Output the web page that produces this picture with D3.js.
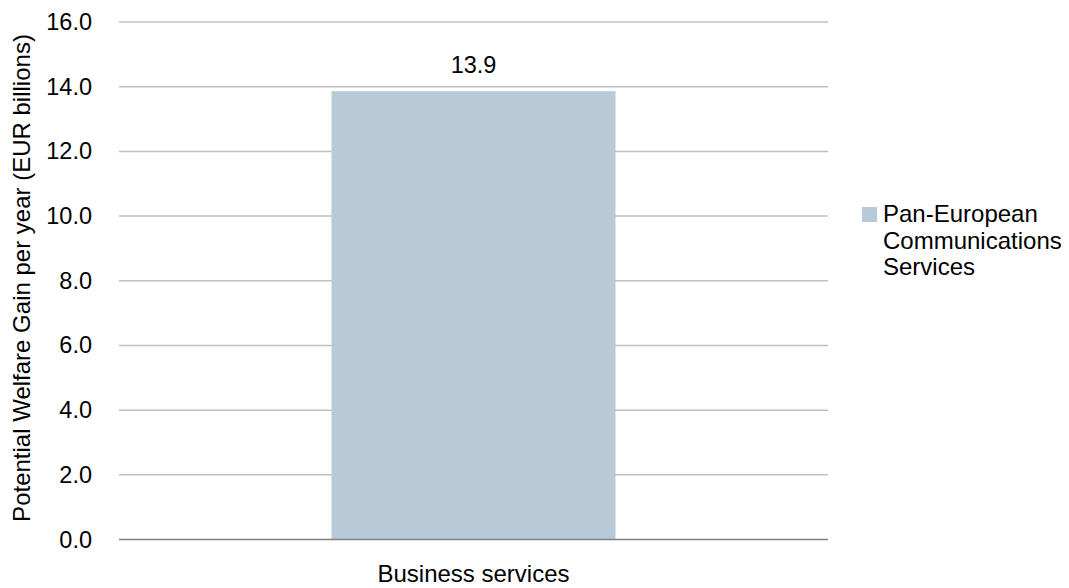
<!DOCTYPE html>
<html><head><meta charset="utf-8">
<script src="https://cdn.jsdelivr.net/npm/d3@7"></script>
<style>body{margin:0;background:#fff}svg{display:block}text{font-family:"Liberation Sans",Arial,sans-serif;fill:#000}</style>
</head><body><svg id="c" width="1069" height="588"></svg>
<script>
const categories = ["Business services"];
const seriesName = "Pan-European Communications Services";
const values = [13.86];
const valueLabels = ["13.9"];
const yTicks = [0, 2, 4, 6, 8, 10, 12, 14, 16];
const yTitle = "Potential Welfare Gain per year (EUR billions)";
const legendLines = ["Pan-European", "Communications", "Services"];

const FONT = '"Liberation Sans",Arial,sans-serif';
const FS = "24px";
const svg = d3.select("#c");
const m = {l: 119, r: 828, t: 22, b: 539.5};
const x = d3.scaleBand().domain(categories).range([m.l, m.r]).padding(0.428);
const y = d3.scaleLinear().domain([0, 16]).range([m.b, m.t]);
const color = "#b8cad8";

// gridlines
svg.append("g").selectAll("line").data(yTicks.filter(d => d > 0)).join("line")
  .attr("x1", m.l).attr("x2", m.r).attr("y1", d => y(d)).attr("y2", d => y(d))
  .attr("stroke", "#c0c0c0").attr("stroke-width", 1.5);

// bars
svg.append("g").selectAll("rect").data(values).join("rect")
  .attr("x", (d, i) => x(categories[i])).attr("width", x.bandwidth())
  .attr("y", d => y(d)).attr("height", d => y(0) - y(d)).attr("fill", color);

// baseline
svg.append("line").attr("x1", m.l).attr("x2", m.r).attr("y1", y(0)).attr("y2", y(0))
  .attr("stroke", "#808080").attr("stroke-width", 1.5);

// y axis
const yAxis = d3.axisLeft(y).tickValues(yTicks).tickFormat(d3.format(".1f")).tickSize(0).tickPadding(27);
const ga = svg.append("g").attr("transform", `translate(${m.l},0)`).call(yAxis);
ga.select(".domain").remove();
ga.selectAll("text").style("font-size", "23.5px").attr("fill", "#000").style("font-family", FONT);

// x axis
const xAxis = d3.axisBottom(x).tickSize(0).tickPadding(25);
const gx = svg.append("g").attr("transform", `translate(0,${y(0)})`).call(xAxis);
gx.select(".domain").remove();
gx.selectAll("text").style("font-size", FS).attr("fill", "#000").style("font-family", FONT);

// value labels
svg.append("g").selectAll("text").data(values).join("text")
  .attr("x", (d, i) => x(categories[i]) + x.bandwidth() / 2).attr("y", d => y(d) - 18)
  .attr("text-anchor", "middle").style("font-size", "23.5px").text((d, i) => valueLabels[i]);

// y title
svg.append("text").attr("transform", `translate(30,278) rotate(-90)`)
  .attr("text-anchor", "middle").style("font-size", FS).text(yTitle);

// legend
const lg = svg.append("g").attr("transform", "translate(862,207)");
lg.append("rect").attr("width", 15).attr("height", 15).attr("fill", color);
lg.append("text").attr("y", 15).style("font-size", FS)
  .selectAll("tspan").data(legendLines).join("tspan")
  .attr("x", 21).attr("dy", (d, i) => i === 0 ? 0 : 26.5).text(d => d);
</script></body></html>
